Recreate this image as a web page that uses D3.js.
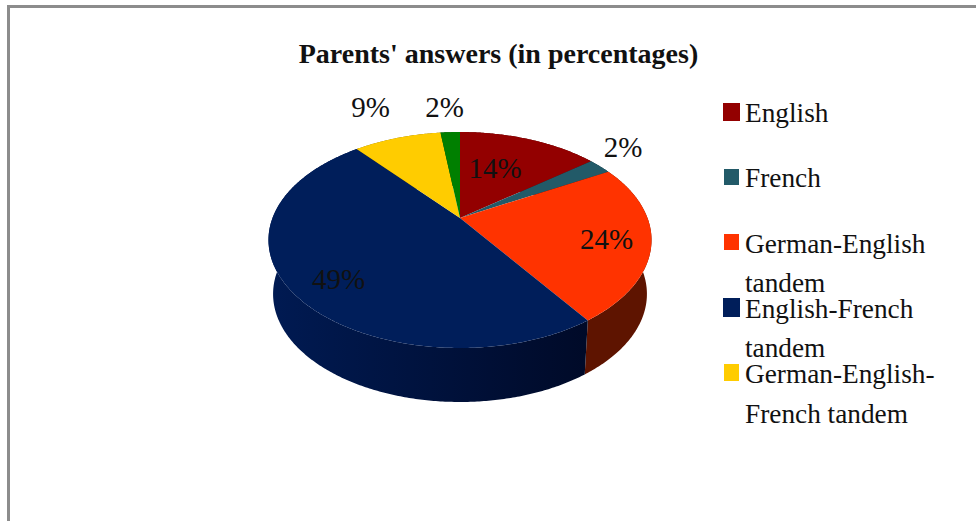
<!DOCTYPE html>
<html><head><meta charset="utf-8">
<script src="https://cdn.jsdelivr.net/npm/d3@7"></script>
<style>html,body{margin:0;padding:0;background:#fff}svg{display:block}text{font-family:"Liberation Serif",serif;fill:#111}</style>
</head><body><svg id="c" width="976" height="521"></svg>
<script>
const values=[14.4,2.4,23.6,48.6,9,2];
const colors=["#930000","#225a68","#ff3300","#001e5a","#ffcc00","#007f00"];
const sideColors=["#4a0000","#112d34","#5e1400","url(#navySide)","#806600","#004000"];
const legendLines=[["English"],["French"],["German-English","tandem"],["English-French","tandem"],["German-English-","French tandem"]];
const titleText="Parents' answers (in percentages)";

const svg=d3.select("#c");
const defs=svg.append("defs");
const g=defs.append("linearGradient").attr("id","navySide").attr("gradientUnits","userSpaceOnUse")
  .attr("x1",273).attr("x2",588).attr("y1",0).attr("y2",0);
g.append("stop").attr("offset",0).attr("stop-color","#001a52");
g.append("stop").attr("offset",1).attr("stop-color","#000a28");

// frame
const frame=svg.append("g").attr("fill","#8c8c8c");
frame.append("rect").attr("x",7).attr("y",5).attr("width",969).attr("height",3);
frame.append("rect").attr("x",7).attr("y",5).attr("width",3).attr("height",516);

svg.append("text").attr("x",498.5).attr("y",63).attr("text-anchor","middle")
  .attr("font-size",28).attr("font-weight","bold").text(titleText);

// perspective disc
const k=0.2037;
const topPlane={x0:460,y0:218,b:187.5,a:103.5};
const botPlane={x0:460,y0:272,b:183,a:103.5};
const project=(p,theta,r=1)=>{
  const u=r*Math.sin(theta),v=r*Math.cos(theta),w=1+k*v;
  return [p.x0+p.b*u/w,p.y0-p.a*v/w];
};
const pie=d3.pie().sort(null).value(d=>d);
const arcs=pie(values);
const line=d3.line();
const rim=(p,a0,a1)=>{
  const n=Math.max(2,Math.ceil((a1-a0)/0.01));
  return d3.range(n+1).map(i=>project(p,a0+(a1-a0)*i/n));
};
// side walls
svg.append("g").selectAll("path").data(arcs).join("path")
  .attr("d",d=>line([...rim(topPlane,d.startAngle,d.endAngle),...rim(botPlane,d.startAngle,d.endAngle).reverse()])+"Z")
  .attr("fill",(d,i)=>sideColors[i]);
// top face
svg.append("g").selectAll("path").data(arcs).join("path")
  .attr("d",d=>line([[topPlane.x0,topPlane.y0],...rim(topPlane,d.startAngle,d.endAngle)])+"Z")
  .attr("fill",(d,i)=>colors[i]);

// value labels
const labelCentres=[[495,168],[623,147],[606.5,239],[338.5,279],[370.5,107],[444.5,107]];
const fmt=d3.format(".0f");
svg.append("g").selectAll("text").data(arcs).join("text")
  .attr("x",(d,i)=>labelCentres[i][0]).attr("y",(d,i)=>labelCentres[i][1]+10)
  .attr("text-anchor","middle").attr("font-size",29)
  .text(d=>fmt(d.value)+"%");

// legend
const swatches=[[723,103,17,18],[724,169,15,16],[724,234,15,16],[723,298,17,19],[724,364,15,17]];
const baselines=[[122],[187],[253,292],[318,357],[383,423]];
const lg=svg.append("g").selectAll("g").data(legendLines).join("g");
lg.append("rect").attr("x",(d,i)=>swatches[i][0]).attr("y",(d,i)=>swatches[i][1])
  .attr("width",(d,i)=>swatches[i][2]).attr("height",(d,i)=>swatches[i][3]).attr("fill",(d,i)=>colors[i]);
lg.each(function(d,i){
  d3.select(this).selectAll("text").data(d).join("text")
    .attr("x",745).attr("y",(t,j)=>baselines[i][j]).attr("font-size",27.3).text(t=>t);
});
</script></body></html>
